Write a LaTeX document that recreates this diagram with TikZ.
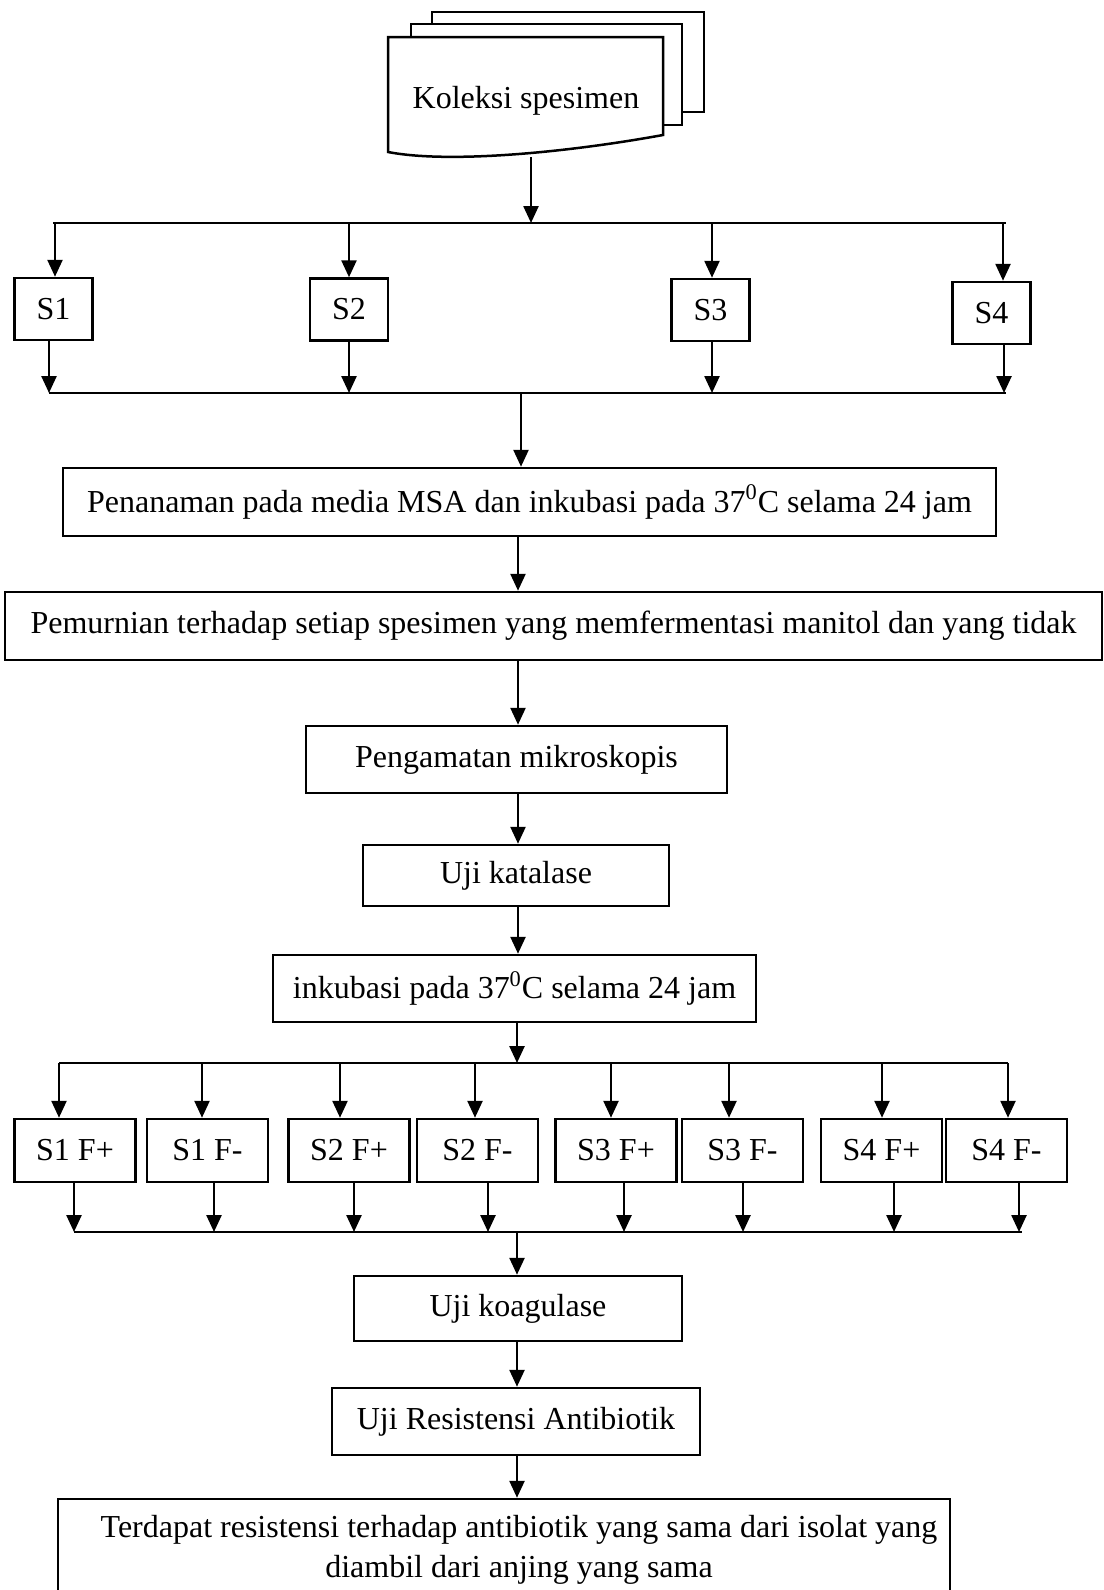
\documentclass[tikz,border=0pt]{standalone}
\usepackage{fontspec}
\setmainfont{Liberation Serif}
\usetikzlibrary{arrows.meta}
\begin{document}
\begin{tikzpicture}[x=0.5pt,y=-0.5pt,
  line width=1.25pt,
  arr/.style={-{Triangle[length=8.5pt,width=7.5pt]}},
  txt/.style={font=\fontsize{16}{20}\selectfont},
  box/.style={draw, txt, inner sep=0pt, align=center},
  sbox/.style={box, minimum width=39pt, minimum height=31pt},
  fbox/.style={box, minimum width=60.5pt, minimum height=31.5pt},
]
\useasboundingbox (0,0) rectangle (1103,1590);
\clip (0,0) rectangle (1103,1590);
\fill[white] (0,0) rectangle (1103,1590);

% multi-document shape
\draw (432,24) -- (432,12) -- (704,12) -- (704,112) -- (682,112);
\draw (411,37) -- (411,24) -- (682,24) -- (682,125) -- (663,125);
\draw (388,152) -- (388,37) -- (663,37) -- (663,135) .. controls (570,152) and (450,164) .. (388,152) -- cycle;
\node[txt] (doc) at (526,101) {Koleksi spesimen};
\coordinate (docb) at (531,157);

% S boxes
\node[sbox] (s1) at (53.5,309) {S1};
\node[sbox] (s2) at (349,309.5) {S2};
\node[sbox] (s3) at (710.5,310) {S3};
\node[sbox] (s4) at (991.5,313) {S4};

\coordinate (bar1) at (531,223);
\draw (53,223) -- (1006,223);
\draw[arr] (docb) -- (bar1);
\foreach \x/\n [count=\i] in {55/s1,349/s2,712/s3,1003/s4}{
  \coordinate (ta\i) at (\x,223);
  \draw[arr] (ta\i) -- (ta\i |- \n.north);
}
\draw (49,393) -- (1006,393);
\foreach \x/\n [count=\i] in {49/s1,349/s2,712/s3,1004/s4}{
  \coordinate (tb\i) at (\x,393);
  \draw[arr] (tb\i |- \n.south) -- (tb\i);
}

% main chain
\node[box, minimum width=466.5pt, minimum height=34pt] (msa) at (529.5,502)
  {Penanaman pada media MSA dan inkubasi pada 37\textsuperscript{0}C selama 24 jam};
\node[box, minimum width=548.5pt, minimum height=34pt] (pem) at (553.5,626)
  {Pemurnian terhadap setiap spesimen yang memfermentasi manitol dan yang tidak};
\node[box, minimum width=210.5pt, minimum height=33.5pt] (peng) at (516.5,759.5)
  {Pengamatan mikroskopis};
\node[box, minimum width=153pt, minimum height=30.5pt] (kat) at (516,875.5)
  {Uji katalase};
\node[box, minimum width=241.5pt, minimum height=33.5pt] (ink) at (514.5,988.5)
  {inkubasi pada 37\textsuperscript{0}C selama 24 jam};

\coordinate (m0) at (521,393);
\draw[arr] (m0) -- (m0 |- msa.north);
\coordinate (m1) at (518,0);
\draw[arr] (m1 |- msa.south) -- (m1 |- pem.north);
\draw[arr] (m1 |- pem.south) -- (m1 |- peng.north);
\draw[arr] (m1 |- peng.south) -- (m1 |- kat.north);
\draw[arr] (m1 |- kat.south) -- (m1 |- ink.north);

% F boxes
\node[fbox] (f1) at (75,1150.5) {S1 F+};
\node[fbox] (f2) at (207.5,1150.5) {S1 F-};
\node[fbox] (f3) at (349,1150.5) {S2 F+};
\node[fbox] (f4) at (477.5,1150.5) {S2 F-};
\node[fbox] (f5) at (616,1150.5) {S3 F+};
\node[fbox] (f6) at (742.5,1150.5) {S3 F-};
\node[fbox] (f7) at (881.5,1150.5) {S4 F+};
\node[fbox] (f8) at (1006.5,1150.5) {S4 F-};

\coordinate (fb) at (517,1063);
\draw[arr] (fb |- ink.south) -- (fb);
\draw (59,1063) -- (1008,1063);
\foreach \x/\n [count=\i] in {59/f1,202/f2,340/f3,475/f4,611/f5,729/f6,882/f7,1008/f8}{
  \coordinate (fa\i) at (\x,1063);
  \draw[arr] (fa\i) -- (fa\i |- \n.north);
}
\draw (74,1232) -- (1022,1232);
\foreach \x/\n [count=\i] in {74/f1,214/f2,354/f3,488/f4,624/f5,743/f6,894/f7,1019/f8}{
  \coordinate (fc\i) at (\x,1232);
  \draw[arr] (fc\i |- \n.south) -- (fc\i);
}

% lower chain
\node[box, minimum width=164pt, minimum height=32.5pt] (koag) at (518,1308.5)
  {Uji koagulase};
\node[box, minimum width=184pt, minimum height=33.5pt] (res) at (516,1421.5)
  {Uji Resistensi Antibiotik};
\node[box, minimum width=446pt, minimum height=51pt] (fin) at (504,1550) {};
\node[txt, align=center, inner sep=0pt] (fintext) at (519,1550)
  {Terdapat resistensi terhadap antibiotik yang sama dari isolat yang\\diambil dari anjing yang sama};

\coordinate (kb) at (517,1232);
\draw[arr] (kb) -- (kb |- koag.north);
\draw[arr] (kb |- koag.south) -- (kb |- res.north);
\draw[arr] (kb |- res.south) -- (kb |- fin.north);
\end{tikzpicture}
\end{document}
